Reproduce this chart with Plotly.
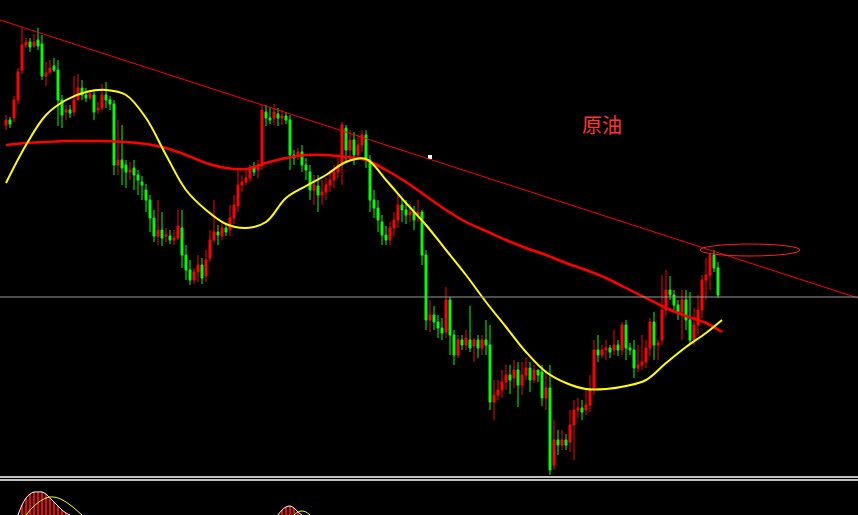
import plotly.graph_objects as go

# chart units: value grows downward on screen (axis reversed), like the terminal's pixel rows
candles = [
    (125,120,115,130),(120,124,117,128),(118,100,96,122),(100,72,68,104),(70,45,27,74),
    (45,42,38,48),(42,47,38,52),(46,42,34,48),(40,46,28,50),(44,76,35,80),
    (76,73,62,86),(72,68,60,74),(66,70,58,72),(70,100,60,126),(100,115,95,128),
    (112,110,105,120),(110,113,105,118),(112,100,76,116),(100,88,74,98),(88,95,80,100),
    (95,98,88,102),(98,94,90,100),(95,112,90,120),(110,108,102,114),(108,95,84,110),
    (95,100,82,108),(100,104,96,110),(104,165,100,175),(165,160,120,175),(160,168,125,185),
    (165,172,160,188),(172,170,162,180),(168,175,160,190),(175,180,170,195),(182,185,176,200),
    (190,200,184,212),(200,218,195,232),(218,236,210,242),(236,230,200,245),(230,238,212,246),
    (236,235,228,242),(236,240,230,244),(240,238,230,245),(238,226,210,240),(228,255,210,268),
    (255,270,245,280),(270,280,260,285),(280,272,268,284),(272,265,255,282),(265,278,258,284),
    (276,260,250,282),(258,240,230,262),(240,232,200,242),(232,235,225,245),(236,228,222,240),
    (228,232,224,236),(230,218,205,236),(218,205,195,224),(206,185,170,212),(185,182,175,192),
    (182,178,170,185),(178,168,165,182),(168,172,162,176),(170,165,160,178),(166,110,105,170),
    (112,118,105,126),(118,120,108,124),(118,112,104,125),(114,118,108,126),(118,116,110,125),
    (116,120,112,124),(120,155,115,170),(155,158,150,165),(156,152,148,160),(152,165,145,172),
    (165,170,158,180),(172,190,165,200),(190,185,175,205),(186,195,175,212),(195,192,180,205),
    (192,185,178,200),(185,180,170,192),(180,172,165,188),(172,165,158,178),(165,125,122,185),
    (128,150,125,162),(150,140,130,160),(140,155,132,165),(155,145,135,160),(145,135,130,152),
    (135,160,130,168),(160,200,155,212),(200,208,190,218),(208,220,200,232),(222,235,215,245),
    (235,240,226,245),(240,228,222,245),(228,220,212,236),(220,205,195,228),(205,210,198,222),
    (210,215,200,224),(215,212,204,222),(212,220,206,230),(215,212,200,222),(212,255,210,265),
    (255,320,250,330),(320,315,300,332),(315,322,306,330),(322,328,315,338),(328,333,318,340),
    (332,300,287,338),(300,335,297,355),(335,355,330,365),(355,340,335,358),(340,345,335,350),
    (345,338,330,350),(340,348,306,352),(346,340,338,362),(340,348,335,358),(348,340,335,355),
    (340,345,320,355),(345,402,325,410),(402,395,380,420),(395,390,380,400),(390,382,370,398),
    (382,375,365,390),(375,380,365,394),(378,370,360,388),(370,385,362,407),(385,375,362,395),
    (375,368,358,380),(368,380,362,392),(380,370,365,383),(370,375,370,382),(372,398,365,406),
    (398,388,370,410),(388,470,365,475),(465,440,420,470),(440,445,430,455),(445,440,430,450),
    (440,445,434,450),(442,425,410,452),(425,410,400,460),(410,408,398,418),(408,412,400,420),
    (410,405,390,415),(405,390,375,412),(390,350,340,395),(350,355,335,362),(355,350,345,358),
    (350,348,340,360),(348,352,345,358),(350,345,330,355),(345,350,340,356),(350,325,322,355),
    (325,348,320,360),(348,350,343,355),(350,368,340,378),(368,365,345,372),(365,362,335,370),
    (362,348,340,368),(348,322,318,356),(322,345,312,360),(345,343,340,360),(340,310,275,345),
    (310,290,270,316),(290,295,276,300),(295,305,290,310),(305,312,300,320),(312,300,290,340),
    (300,320,290,330),(320,340,292,345),(340,325,308,345),(325,310,295,335),(310,280,275,318),
    (280,275,258,300),(275,255,253,290),(255,268,250,272),(268,295,262,298),
]
opens = [c[0] for c in candles]
closes = [c[1] for c in candles]
highs = [c[2] for c in candles]
lows = [c[3] for c in candles]
idx = list(range(len(candles)))

ma_x = [0,5,10,15,20,25,30,35,40,45,50,55,60,65,70,75,80,85,90,95,100,105,110,115,120,125,130,135,140,145,150,155,160,165,170,175,179]
ma_fast = [183,145,115,100,92,90,95,118,155,190,210,224,228,222,198,186,175,162,159,180,203,225,250,275,302,327,352,372,383,389,389,386,380,363,347,333,320]
ma_slow = [145,143,142,141,141,141,142,144,148,155,163,168,169,163,158,155,155,157,160,170,182,196,210,222,231,240,248,255,263,270,278,288,298,308,316,323,332]

hist_x = [3,4,5,6,7,8,9,10,11,12,13,14,15,16,68,69,70,71,72,73,74]
hist_v = [515,505,498,494,492,492,492,494,498,502,506,510,513,515,515,510,507,506,508,512,515]
sig1_x = [5,7,9,11,13,15,17,19]
sig1_v = [515,506,500,497,498,502,508,515]
sig2_x = [72,73,74,75,76]
sig2_v = [515,512,511,512,515]

X0, X1 = -1.5, 213

fig = go.Figure()
fig.add_trace(go.Candlestick(
    x=idx, open=opens, high=highs, low=lows, close=closes,
    increasing=dict(line=dict(color="#00ff00", width=1), fillcolor="#00ff00"),
    decreasing=dict(line=dict(color="#ff0000", width=1), fillcolor="#ff0000"),
    whiskerwidth=0, showlegend=False))
fig.add_trace(go.Scatter(x=ma_x, y=ma_slow, mode="lines", line=dict(color="#ff0000", width=2.5, shape="spline"), showlegend=False))
fig.add_trace(go.Scatter(x=ma_x, y=ma_fast, mode="lines", line=dict(color="#ffff00", width=2, shape="spline"), showlegend=False))

# lower indicator panel
fig.add_trace(go.Bar(x=hist_x, y=[v - 515 for v in hist_v], base=515, marker=dict(color="#ff0000", line=dict(width=0)), width=0.3, showlegend=False))
fig.add_trace(go.Scatter(x=hist_x[:14], y=hist_v[:14], mode="lines", line=dict(color="#ffffff", width=1, shape="spline"), showlegend=False))
fig.add_trace(go.Scatter(x=hist_x[14:], y=hist_v[14:], mode="lines", line=dict(color="#ffffff", width=1, shape="spline"), showlegend=False))
fig.add_trace(go.Scatter(x=sig1_x, y=sig1_v, mode="lines", line=dict(color="#ffff00", width=1, shape="spline"), showlegend=False))
fig.add_trace(go.Scatter(x=sig2_x, y=sig2_v, mode="lines", line=dict(color="#ffff00", width=1, shape="spline"), showlegend=False))
fig.add_trace(go.Scatter(x=[106], y=[157], mode="markers", marker=dict(color="white", size=4, symbol="square"), showlegend=False))

fig.add_shape(type="line", x0=X0, y0=20, x1=X1, y1=298, line=dict(color="#ff0000", width=1))
fig.add_shape(type="line", x0=X0, y0=297, x1=X1, y1=297, line=dict(color="#9a9aa0", width=1))
fig.add_shape(type="line", x0=X0, y0=477, x1=X1, y1=477, line=dict(color="#ffffff", width=1.5))
fig.add_shape(type="line", x0=X0, y0=480, x1=X1, y1=480, line=dict(color="#ffffff", width=1.5))
fig.add_shape(type="circle", x0=173.5, y0=244, x1=198.5, y1=256, line=dict(color="#ff2020", width=1))

fig.add_annotation(x=149, y=124, text="原油", showarrow=False,
                   font=dict(family="Noto Sans CJK SC", size=20, color="#ff3333"))

fig.update_layout(
    width=858, height=515, margin=dict(l=0, r=0, t=0, b=0),
    paper_bgcolor="black", plot_bgcolor="black", bargap=0,
    xaxis=dict(range=[X0, X1], visible=False, rangeslider=dict(visible=False)),
    yaxis=dict(range=[515, 0], visible=False),
)
fig.write_html("out.html", config={"displayModeBar": False},
               post_script="document.body.style.margin='0';document.body.style.background='black';")
